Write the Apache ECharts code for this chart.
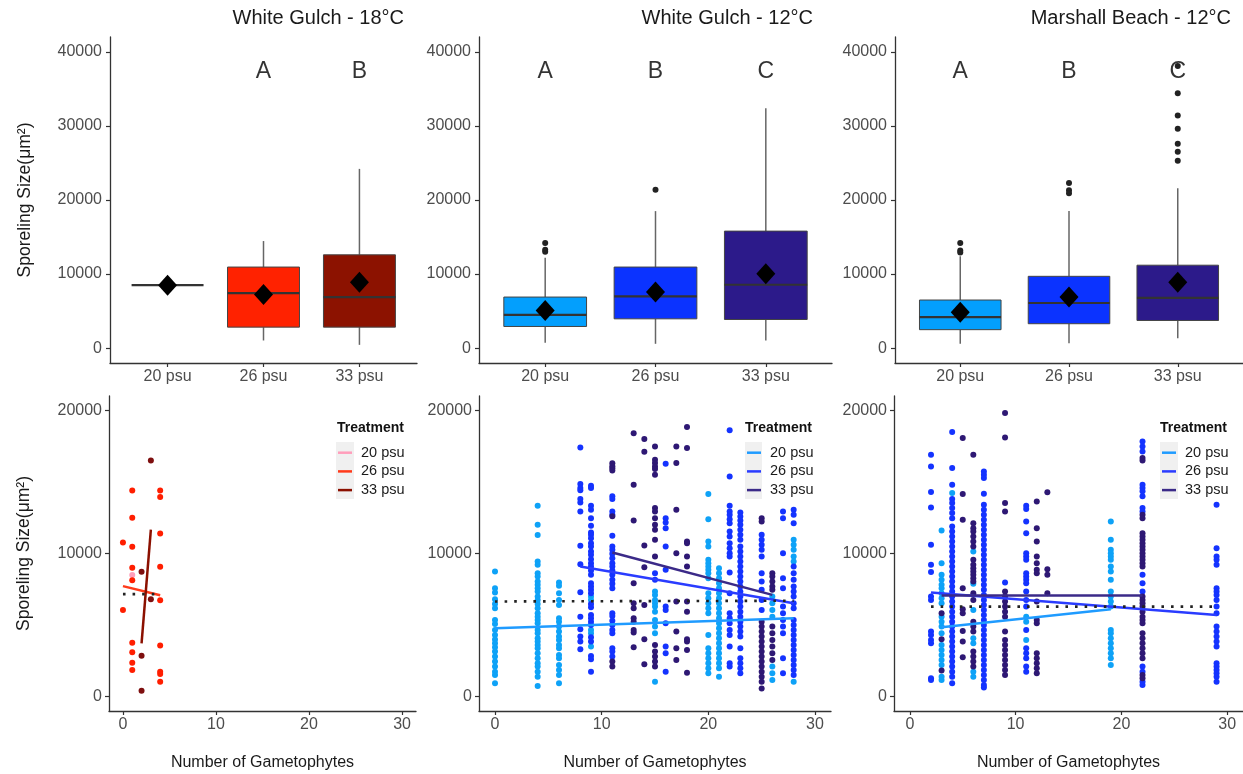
<!DOCTYPE html>
<html><head><meta charset="utf-8">
<script src="https://cdn.jsdelivr.net/npm/echarts@6/dist/echarts.min.js"></script>
<style>html,body{margin:0;padding:0;background:#fff}#c{width:1243px;height:774px}</style>
</head><body><div id="c"></div>
<script>
// ---------------- DATA ----------------
const salinity = ['20 psu', '26 psu', '33 psu'];
const panelTitles = ['White Gulch - 18°C', 'White Gulch - 12°C', 'Marshall Beach - 12°C'];
const yTitle = 'Sporeling Size(μm²)';
const xTitle = 'Number of Gametophytes';
const yTicksTop = [0, 10000, 20000, 30000, 40000];
const yTicksBot = [0, 10000, 20000];
const xTicksBot = [0, 10, 20, 30];

// box stats per salinity: [low whisker, Q1, median, Q3, high whisker]
const boxWG18 = [[8500, 8500, 8500, 8500, 8500], [1040, 2840, 7430, 10950, 14460], [450, 2840, 6900, 12600, 24200]];
const meanWG18 = [8500, 7250, 8900];
const boxWG12 = [[720, 2930, 4500, 6900, 12200], [590, 3960, 7000, 10950, 18500], [1040, 3870, 8560, 15800, 32400]];
const meanWG12 = [5100, 7570, 10050];
const boxMB12 = [[590, 2500, 4200, 6500, 12400], [680, 3300, 6100, 9700, 18500], [1350, 3740, 6800, 11200, 21600]];
const meanMB12 = [4860, 6900, 8900];
const outWG18 = [];
const outWG12 = [[1, 14200], [1, 13300], [1, 13000], [2, 21400]];
const outMB12 = [[1, 14200], [1, 13200], [1, 12900], [2, 22300], [2, 21300], [2, 20900], [3, 38100], [3, 34400], [3, 31400], [3, 29600], [3, 27600], [3, 26500], [3, 25300]];
const lettersWG18 = [[2, 'A'], [3, 'B']];
const lettersWG12 = [[1, 'A'], [2, 'B'], [3, 'C']];
const lettersMB12 = [[1, 'A'], [2, 'B'], [3, 'C']];
const letterLevel = 37300;

// scatter points: {number of gametophytes: [sporeling sizes]}
const ptsWG18_20 = {1: [8500]};
const ptsWG18_26 = {0: [10770, 6050], 1: [14400, 12500, 10470, 9000, 8140, 3770, 3100, 2370, 1860], 4: [14400, 13950, 11400, 9070, 6740, 3580, 1740, 1580, 1050]};
const ptsWG18_33 = {2: [8720, 2860, 420], 3: [16500, 6800]};
const fitWG18_20 = [];
const fitWG18_26 = [[0, 7720], [4, 7090]];
const fitWG18_33 = [[2, 3720], [3, 11670]];
const fitWG18_all = [[0, 7160], [4, 7160]];

const ptsWG12_20 = {
  0: [8740, 7580, 7270, 6800, 6480, 6180, 5360, 5080, 4660, 4310, 4000, 3730, 3450, 3150, 2800, 2450, 2100, 1750, 1520, 930],
  4: [13330, 12000, 11300, 9440, 9210, 8620, 8390, 8040, 7810, 7580, 7340, 6990, 6760, 6480, 6180, 5830, 5590, 5360, 5130, 4660, 4430, 4080, 3850, 3610, 3380, 3030, 2680, 2330, 2100, 1750, 1400, 750],
  6: [7970, 7740, 7230, 6760, 6410, 5480, 5240, 4900, 4550, 4200, 3960, 3610, 3380, 2910, 2680, 2210, 1860, 1520, 930],
  9: [6990, 6760, 4660, 4430, 3500],
  15: [7340, 7110, 6760, 6530, 6290, 5940, 5360, 4900, 4430, 1050],
  20: [14150, 12400, 10840, 10490, 9560, 9320, 9090, 8860, 8620, 8270, 7230, 6880, 6530, 6180, 5830, 4310, 3380, 3030, 2680, 2330, 1980, 1630],
  21: [8970, 8620, 8270, 7930, 7580, 7230, 6880, 6530, 6180, 5830, 5480, 5130, 4780, 4430, 4080, 3730, 3380, 3030, 2680, 2330, 1980, 1400],
  26: [6990, 6530, 6060, 5590, 2100, 1630, 1170],
  28: [10960, 10610, 10260, 9790, 9440, 1050]
};
const ptsWG12_26 = {
  8: [17410, 14850, 14570, 14410, 13800, 13570, 12940, 10540, 9250, 7300, 5590, 4710, 4200, 3850, 3310],
  9: [14730, 14570, 13330, 13050, 12470, 11930, 11470, 11310, 11070, 10720, 10490, 10140, 9910, 9600, 9320, 9090, 8810, 8510, 7930, 7690, 7460, 7230, 6480, 6250, 5710, 5480, 5240, 5010, 4150, 3850, 2840, 2610, 1750],
  11: [13990, 13800, 12940, 12700, 11240, 10490, 10260, 9980, 9670, 9320, 9090, 8810, 8510, 8160, 7880, 7580, 5830, 5640, 5310, 5010, 4660, 4430, 3380, 3150, 2800],
  15: [8620, 8160],
  16: [16270, 12470, 12170, 11770, 10490, 8860, 6290, 6060, 5130, 3500, 3030, 1750],
  22: [18600, 15380, 13330, 12940, 12700, 12400, 12120, 11540, 11190, 10720, 10370, 10020, 9790, 8670, 7230, 5830, 5480, 5130, 4660, 4310, 3500, 2330, 2100],
  23: [12870, 12590, 12310, 12000, 11660, 11310, 10960, 10490, 10140, 9790, 9440, 9090, 8740, 8390, 8040, 7690, 7340, 6990, 6640, 6290, 5940, 5590, 5240, 4900, 4550, 4200, 3380, 2680, 2330, 1980, 1630],
  25: [11310, 10960, 10610, 10260, 9790, 8620, 8040, 7460, 6760, 6060],
  27: [12940, 12470, 10020, 8270, 7580, 6290, 5830, 5360, 4900, 4430, 2680, 1630],
  28: [13050, 12700, 12120, 9090, 8620, 8160, 7690, 7340, 6990, 6530, 6180, 5360, 5010, 4660, 4310, 3960, 3610, 3260, 2910, 2560, 2210, 1860, 1520]
};
const ptsWG12_33 = {
  11: [16300, 16100, 15950, 15800, 12600, 2450, 2100],
  13: [18400, 14800, 12300, 7930, 6530, 6180, 5480, 5240, 4660, 4480, 3450],
  14: [18000, 17100, 10560, 9040, 6410, 4010, 2260],
  15: [17480, 16550, 16320, 16080, 15900, 15500, 13170, 12940, 12470, 12000, 11660, 10960, 9790, 3610, 3150, 2800, 2450, 2100],
  17: [17480, 16320, 13050, 10020, 6640, 4550, 3380, 2560],
  18: [18830, 17370, 10840, 10720, 9790, 9090, 6640, 5940, 4010, 3850, 3260, 1680],
  25: [12470, 12240, 5240, 4900, 4550, 4200, 3850, 3500, 3150, 2800, 2450, 2100, 1750, 1400, 1050, 580],
  26: [8620, 8390, 8040, 7690, 7460, 4900, 4430, 3960, 3500, 3030, 2560]
};
const fitWG12_20 = [[0, 4780], [28, 5480]];
const fitWG12_26 = [[8, 9090], [28, 6530]];
const fitWG12_33 = [[11, 10070], [26, 7110]];
const fitWG12_all = [[0, 6650], [28, 6700]];

const ptsMB12_20 = {
  3: [11610, 9320, 8510, 8160, 7810, 7580, 7230, 6880, 6530, 5590, 5240, 4900, 4430, 3610, 3260, 2910, 2560, 2210, 1400, 1170],
  4: [14220],
  6: [10140, 7880, 6060, 4080, 3730, 1750, 1400],
  11: [5590, 5240, 3960],
  19: [12240, 10960, 10260, 10020, 9790, 9560, 9090, 8740, 8160, 7340, 6990, 6640, 6290, 4660, 4430, 4080, 3730, 3380, 3030, 2680, 2210]
};
const ptsMB12_26 = {
  2: [16900, 16080, 14290, 13220, 10610, 9210, 8700, 6990, 6760, 4550, 4310, 3960, 3730, 1280, 1170],
  4: [18480, 15970, 14800, 13800, 13520, 13170, 12820, 12470, 11890, 11540, 11190, 10840, 10490, 10140, 9790, 9440, 9090, 8740, 8390, 8040, 7690, 7340, 6990, 6640, 6290, 5940, 5590, 5240, 4900, 4550, 4200, 3850, 3500, 3150, 2800, 2450, 2100, 1750, 1400, 930],
  7: [15730, 15500, 15270, 14170, 13400, 13050, 12700, 12350, 12000, 11660, 11310, 10960, 10610, 10260, 9910, 9560, 9210, 8860, 8510, 8160, 7810, 7460, 7110, 6760, 6410, 6060, 5710, 5360, 5010, 4660, 4310, 3960, 3610, 3260, 2910, 2560, 2210, 1860, 1520, 1170, 820, 650],
  9: [7970],
  11: [13330, 13100, 12240, 11420, 10020, 9790, 9560, 8620, 8390, 8160, 7930, 7340, 6760, 6290, 4660, 3380, 3030, 2680, 2100, 1750],
  22: [17830, 17480, 17130, 14800, 14570, 14340, 13990, 13170, 12940, 8510, 7930, 7340, 2100, 1750, 1050, 820],
  29: [13400, 10370, 9790, 9560, 9210, 7580, 7340, 7110, 6760, 6290, 5830, 4900, 4550, 4200, 3850, 3500, 2330, 2100, 1860, 1630, 1400, 1050]
};
const ptsMB12_33 = {
  3: [5830, 4010, 1820],
  5: [18070, 14150, 12350, 7580, 6110, 5830, 4590, 3850, 2750],
  6: [16900, 12120, 11770, 11540, 11190, 10840, 10490, 9560, 9210, 8970, 8740, 8510, 8270, 8040, 7230, 6760, 5240, 4900, 4550, 3150, 2800, 2450, 2100],
  9: [19810, 18110, 13520, 12940, 7340, 6990, 6640, 6290, 5940, 5590, 4550, 3960, 3610, 3260, 2910, 2560, 2210, 1860, 1520],
  12: [13640, 11770, 10840, 9790, 9320, 8860, 8620, 6640, 5360, 5130, 3030, 2680, 2330, 1980, 1630],
  13: [14270, 8900, 8510, 7230],
  22: [16670, 16500, 12700, 12470, 11420, 11190, 10960, 10720, 10490, 10260, 10020, 9790, 9560, 9320, 9090, 6990, 6760, 6530, 6290, 5940, 5590, 5360, 5130, 4430, 4080, 3730, 3380, 3030, 2680, 1520, 1280]
};
const fitMB12_20 = [[3, 4850], [19, 6100]];
const fitMB12_26 = [[2, 7270], [29, 5710]];
const fitMB12_33 = [[3, 7060], [22, 7060]];
const fitMB12_all = [[2, 6290], [29, 6290]];

// ---------------- STYLE ----------------
const FONT = '"Liberation Sans", Arial, Helvetica, sans-serif';
const boxFillRed = ['#FF2A00', '#FF2200', '#8C1200'];
const boxFillBlue = ['#039FFD', '#0B33FF', '#2C1A8A'];
const ptRed = ['#FF9EBB', '#FF1E00', '#7E0F0F'];
const lnRed = ['#FF9EBB', '#FF3A1A', '#8B1000'];
const ptBlue = ['#0EA2F7', '#1433FF', '#2E1874'];
const lnBlue = ['#1F9BFF', '#2A3CFF', '#3B2A88'];

const topGrids = [
  {left: 110, top: 37, width: 307, height: 326},
  {left: 479, top: 37, width: 353, height: 326},
  {left: 895, top: 37, width: 353, height: 326}
];
const botGrids = [
  {left: 109, top: 396, width: 307, height: 315},
  {left: 479, top: 396, width: 352, height: 315},
  {left: 894, top: 396, width: 352, height: 315}
];

function flatten(obj) {
  const out = [];
  Object.keys(obj).forEach(k => obj[k].forEach(v => out.push([Number(k), v])));
  return out;
}

const axisLine = {show: true, onZero: false, lineStyle: {color: '#333', width: 1.3}};
const tickLabel = {color: '#4d4d4d', fontSize: 16, fontFamily: FONT};
const yNameStyle = {fontSize: 17.5, color: '#1a1a1a', fontFamily: FONT};

const grid = [], xAxis = [], yAxis = [], series = [];

const tops = [
  {box: boxWG18, mean: meanWG18, out: outWG18, letters: lettersWG18, fills: [null, boxFillRed[1], boxFillRed[2]]},
  {box: boxWG12, mean: meanWG12, out: outWG12, letters: lettersWG12, fills: boxFillBlue},
  {box: boxMB12, mean: meanMB12, out: outMB12, letters: lettersMB12, fills: boxFillBlue}
];
tops.forEach((p, i) => {
  grid.push(topGrids[i]);
  xAxis.push({
    type: 'value', gridIndex: i, min: 0.4, max: 3.6,
    axisLine: axisLine,
    axisTick: {show: true, customValues: [1, 2, 3], length: 4, lineStyle: {color: '#333', width: 1.2}},
    axisLabel: Object.assign({customValues: [1, 2, 3], margin: 6, formatter: v => salinity[Math.round(v) - 1]}, tickLabel),
    splitLine: {show: false}
  });
  yAxis.push({
    type: 'value', gridIndex: i, min: -2000, max: 42000,
    axisLine: axisLine,
    axisTick: {show: true, customValues: yTicksTop, length: 4, lineStyle: {color: '#333', width: 1.2}},
    axisLabel: Object.assign({customValues: yTicksTop, margin: 8, formatter: v => String(v)}, tickLabel),
    splitLine: {show: false},
    name: i === 0 ? yTitle : '', nameLocation: 'middle', nameGap: 76, nameRotate: 90,
    nameTextStyle: yNameStyle
  });
  const fills = p.fills;
  series.push({
    type: 'custom', xAxisIndex: i, yAxisIndex: i,
    encode: {x: 0, y: [1, 2, 3, 4, 5]},
    data: p.box.map((b, j) => [j + 1].concat(b)),
    renderItem: function (params, api) {
      const x = api.value(0);
      const pLow = api.coord([x, api.value(1)]);
      const pQ1 = api.coord([x, api.value(2)]);
      const pMed = api.coord([x, api.value(3)]);
      const pQ3 = api.coord([x, api.value(4)]);
      const pHigh = api.coord([x, api.value(5)]);
      const w = api.size([0.75, 0])[0];
      const cx = pMed[0];
      const fill = fills[params.dataIndex];
      const ch = [
        {type: 'line', shape: {x1: cx, y1: pQ3[1], x2: cx, y2: pHigh[1]}, style: {stroke: '#666', lineWidth: 1.5}},
        {type: 'line', shape: {x1: cx, y1: pQ1[1], x2: cx, y2: pLow[1]}, style: {stroke: '#666', lineWidth: 1.5}}
      ];
      if (fill) ch.push({type: 'rect', shape: {x: cx - w / 2, y: pQ3[1], width: w, height: pQ1[1] - pQ3[1]}, style: {fill: fill, stroke: '#444', lineWidth: 1}});
      ch.push({type: 'line', shape: {x1: cx - w / 2, y1: pMed[1], x2: cx + w / 2, y2: pMed[1]}, style: {stroke: '#333', lineWidth: 2.2}});
      return {type: 'group', children: ch};
    },
    z: 2
  });
  series.push({
    type: 'scatter', xAxisIndex: i, yAxisIndex: i, data: p.out,
    symbolSize: 6, itemStyle: {color: '#222', opacity: 1}, z: 3
  });
  series.push({
    type: 'scatter', xAxisIndex: i, yAxisIndex: i, data: p.mean.map((m, j) => [j + 1, m]),
    symbol: 'diamond', symbolSize: [19, 21], itemStyle: {color: '#000', opacity: 1}, z: 5
  });
  series.push({
    type: 'scatter', xAxisIndex: i, yAxisIndex: i,
    data: p.letters.map(l => ({value: [l[0], letterLevel], name: l[1]})),
    symbolSize: 1, itemStyle: {color: 'rgba(0,0,0,0)'},
    label: {show: true, position: 'inside', formatter: '{b}', fontSize: 23, color: '#000', fontFamily: FONT},
    z: 6
  });
});

const bots = [
  {tag: 'WG18', pts: [ptsWG18_20, ptsWG18_26, ptsWG18_33], fits: [fitWG18_20, fitWG18_26, fitWG18_33], all: fitWG18_all, pc: ptRed, lc: lnRed},
  {tag: 'WG12', pts: [ptsWG12_20, ptsWG12_26, ptsWG12_33], fits: [fitWG12_20, fitWG12_26, fitWG12_33], all: fitWG12_all, pc: ptBlue, lc: lnBlue},
  {tag: 'MB12', pts: [ptsMB12_20, ptsMB12_26, ptsMB12_33], fits: [fitMB12_20, fitMB12_26, fitMB12_33], all: fitMB12_all, pc: ptBlue, lc: lnBlue}
];
const legendLeft = [338, 747, 1162];
const treatLeft = [337, 745, 1160];
const legend = [];
bots.forEach((p, k) => {
  const i = k + 3;
  grid.push(botGrids[k]);
  xAxis.push({
    type: 'value', gridIndex: i, min: -1.5, max: 31.5,
    axisLine: axisLine,
    axisTick: {show: true, customValues: xTicksBot, length: 4, lineStyle: {color: '#333', width: 1.2}},
    axisLabel: Object.assign({customValues: xTicksBot, margin: 6, formatter: v => String(v)}, tickLabel),
    splitLine: {show: false},
    name: xTitle, nameLocation: 'middle', nameGap: 44,
    nameTextStyle: {fontSize: 16, color: '#1a1a1a', fontFamily: FONT}
  });
  yAxis.push({
    type: 'value', gridIndex: i, min: -1000, max: 21000,
    axisLine: axisLine,
    axisTick: {show: true, customValues: yTicksBot, length: 4, lineStyle: {color: '#333', width: 1.2}},
    axisLabel: Object.assign({customValues: yTicksBot, margin: 7, formatter: v => String(v)}, tickLabel),
    splitLine: {show: false},
    name: k === 0 ? yTitle : '', nameLocation: 'middle', nameGap: 76, nameRotate: 90,
    nameTextStyle: yNameStyle
  });
  p.pts.forEach((obj, t) => {
    series.push({
      type: 'scatter', name: 'pts ' + salinity[t] + ' ' + p.tag, xAxisIndex: i, yAxisIndex: i,
      data: flatten(obj), symbolSize: 6, itemStyle: {color: p.pc[t], opacity: 1}, z: 2
    });
  });
  p.fits.forEach((d, t) => {
    series.push({
      type: 'line', name: salinity[t] + '|' + p.tag, xAxisIndex: i, yAxisIndex: i,
      data: d, symbol: 'none', color: p.lc[t], itemStyle: {color: p.lc[t]},
      lineStyle: {color: p.lc[t], width: 2.5}, z: 4, silent: true
    });
  });
  series.push({
    type: 'line', name: 'overall ' + p.tag, xAxisIndex: i, yAxisIndex: i,
    data: p.all, symbol: 'none', lineStyle: {color: '#222', width: 2.6, type: [2.6, 7]}, z: 4, silent: true
  });
  legend.push({
    data: salinity.map(s => s + '|' + p.tag),
    orient: 'vertical', left: legendLeft[k], top: 444.7, padding: 0,
    itemWidth: 14, itemHeight: 2.5, itemGap: 2.7, icon: 'rect', selectedMode: false,
    formatter: n => n.split('|')[0],
    textStyle: {fontSize: 14.5, color: '#1a1a1a', fontFamily: FONT, lineHeight: 16, padding: [0, 0, 0, 4]}
  });
});

const title = [
  {text: panelTitles[0], right: 839, top: 8},
  {text: panelTitles[1], right: 430, top: 8},
  {text: panelTitles[2], right: 12, top: 8}
].map(t => Object.assign(t, {padding: 0, textStyle: {fontSize: 20, fontWeight: 'normal', color: '#1a1a1a', fontFamily: FONT}}));
treatLeft.forEach(l => title.push({text: 'Treatment', left: l, top: 421, padding: 0,
  textStyle: {fontSize: 14, fontWeight: 'bold', color: '#111', fontFamily: FONT}}));

const graphic = [
  {type: 'rect', shape: {x: 336, y: 442, width: 18, height: 57}, style: {fill: '#f0f0f0'}, z: 1, silent: true},
  {type: 'rect', shape: {x: 745, y: 442, width: 17, height: 57}, style: {fill: '#f0f0f0'}, z: 1, silent: true},
  {type: 'rect', shape: {x: 1160, y: 442, width: 18, height: 57}, style: {fill: '#f0f0f0'}, z: 1, silent: true}
];

const chart = echarts.init(document.getElementById('c'), null, {renderer: 'canvas'});
chart.setOption({
  backgroundColor: '#ffffff',
  animation: false,
  textStyle: {fontFamily: FONT},
  title: title,
  legend: legend,
  graphic: graphic,
  grid: grid,
  xAxis: xAxis,
  yAxis: yAxis,
  series: series
});
</script></body></html>
